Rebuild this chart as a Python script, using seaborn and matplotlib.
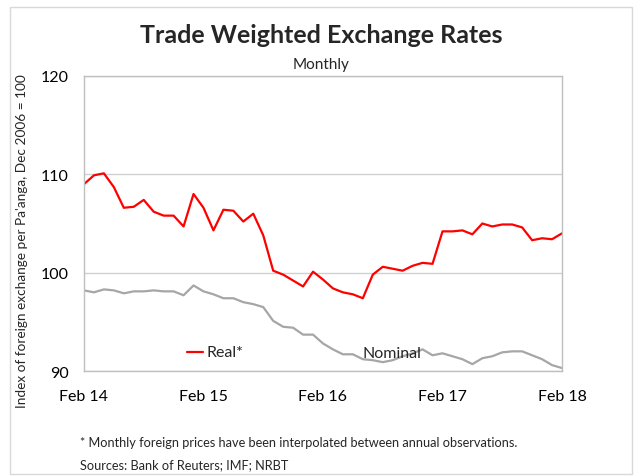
import matplotlib
matplotlib.use("Agg")
import matplotlib.pyplot as plt
import seaborn as sns
import pandas as pd
import numpy as np

months = list(range(49))  # Feb 14 .. Feb 18, monthly
tick_positions = [0, 12, 24, 36, 48]
tick_labels = ["Feb 14", "Feb 15", "Feb 16", "Feb 17", "Feb 18"]

real = [109.0, 109.9, 110.1, 108.7, 106.6, 106.7, 107.4, 106.2, 105.8, 105.8,
        104.7, 108.0, 106.6, 104.3, 106.4, 106.3, 105.2, 106.0, 103.8, 100.2,
        99.8, 99.2, 98.6, 100.1, 99.3, 98.4, 98.0, 97.8, 97.4, 99.8,
        100.6, 100.4, 100.2, 100.7, 101.0, 100.9, 104.2, 104.2, 104.3, 103.9,
        105.0, 104.7, 104.9, 104.9, 104.6, 103.3, 103.5, 103.4, 104.0]
nominal = [98.2, 98.0, 98.3, 98.2, 97.9, 98.1, 98.1, 98.2, 98.1, 98.1,
           97.7, 98.7, 98.1, 97.8, 97.4, 97.4, 97.0, 96.8, 96.5, 95.1,
           94.5, 94.4, 93.7, 93.7, 92.8, 92.2, 91.7, 91.7, 91.2, 91.1,
           90.9, 91.1, 91.5, 91.8, 92.2, 91.6, 91.8, 91.5, 91.2, 90.7,
           91.3, 91.5, 91.9, 92.0, 92.0, 91.6, 91.2, 90.6, 90.3]

df = pd.DataFrame({
    "month": months * 2,
    "value": real + nominal,
    "series": ["Real*"] * len(real) + ["Nominal"] * len(nominal),
})

sns.set_style("white")
plt.rcParams["font.family"] = ["Lato", "DejaVu Sans"]

fig = plt.figure(figsize=(6.42, 4.77), dpi=100)
ax = fig.add_axes([0.1308, 0.2201, 0.7446, 0.6185])

sns.lineplot(data=df, x="month", y="value", hue="series",
             palette={"Real*": "#ff0000", "Nominal": "#a6a6a6"},
             linewidth=1.6, legend=False, ax=ax)

ax.set_xlim(0, 48)
ax.set_ylim(90, 120)
ax.set_yticks([90, 100, 110, 120])
ax.set_xticks(tick_positions)
ax.set_xticklabels(tick_labels)
ax.set_xticks([6, 18, 30, 42], minor=True)
ax.tick_params(axis="both", which="both", direction="out", length=5,
               color="#bfbfbf", width=1, labelsize=11.5, labelcolor="black")
ax.tick_params(axis="x", which="major", pad=8)
ax.tick_params(axis="y", pad=6)
ax.grid(axis="y", color="#d0d0d0", linewidth=1)
ax.set_axisbelow(True)
for s in ax.spines.values():
    s.set_color("#bfbfbf")
    s.set_linewidth(1)
    s.set_visible(True)
ax.set_xlabel("")
ax.set_ylabel("")
fig.text(22 / 642, 1 - 241 / 477,
         "Index of foreign exchange per Pa'anga, Dec 2006 = 100",
         fontsize=9.8, rotation=90, ha="center", va="center")

# in-plot labels
ax.plot([10.3, 12.0], [91.9, 91.9], color="#ff0000", linewidth=1.6)
ax.text(12.3, 91.9, "Real*", fontsize=11.5, va="center", ha="left")
ax.text(28.0, 91.8, "Nominal", fontsize=11.5, va="center", ha="left")

fig.text(0.50, 0.925, "Trade Weighted Exchange Rates", fontsize=18,
         fontweight="bold", ha="center", va="center")
fig.text(0.50, 0.863, "Monthly", fontsize=11, ha="center", va="center")
fig.text(0.125, 0.071, "* Monthly foreign prices have been interpolated between annual observations.",
         fontsize=9.2, ha="left", va="center")
fig.text(0.125, 0.025, "Sources: Bank of Reuters; IMF; NRBT",
         fontsize=9.2, ha="left", va="center")

# outer chart border
border = plt.Rectangle((0.016, 0.004), 0.968, 0.98, transform=fig.transFigure,
                       fill=False, edgecolor="#d9d9d9", linewidth=1)
fig.patches.append(border)

fig.savefig("out.png", dpi=100)
